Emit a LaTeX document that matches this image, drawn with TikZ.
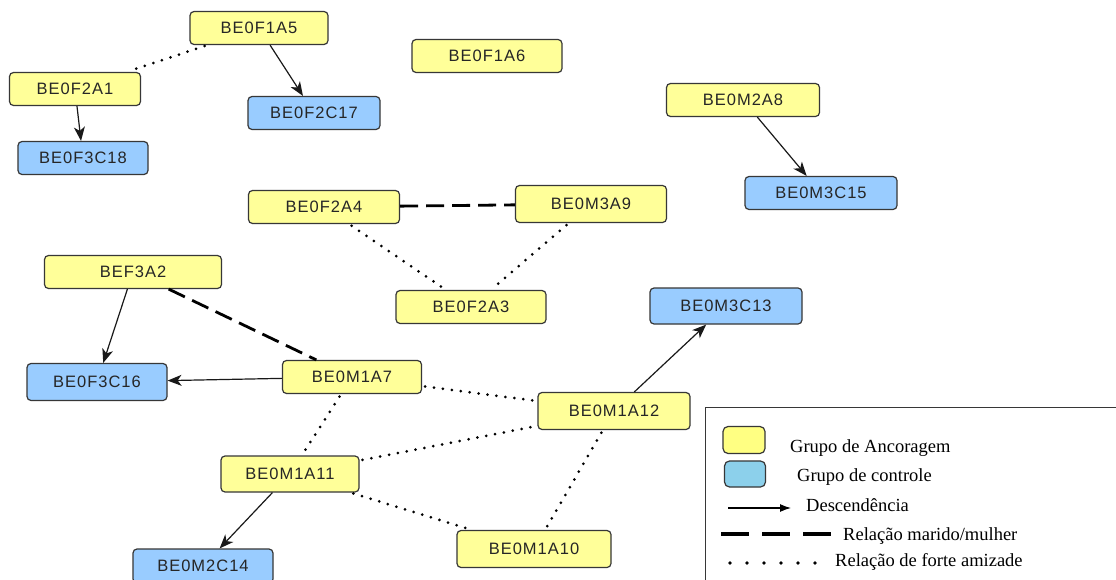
\documentclass[tikz,border=0pt]{standalone}
\usepackage{fontspec}
\setmainfont{Liberation Serif}
\setsansfont{Liberation Sans}[LetterSpace=6.0]
\usepackage{tikz}
\usetikzlibrary{arrows.meta}

\definecolor{ancora}{RGB}{255,255,153}
\definecolor{controle}{RGB}{153,204,255}
\definecolor{borda}{RGB}{55,55,55}
\definecolor{legancora}{RGB}{255,255,130}
\definecolor{legcontrole}{RGB}{140,208,235}

\begin{document}
\begin{tikzpicture}
      [x=1pt,y=-1pt,
       anc/.style={rectangle,draw=borda,line width=1.2pt,rounded corners=4pt,fill=ancora,minimum height=33pt,font=\sffamily\fontsize{16.5}{19}\selectfont,text=black!85},
       ctl/.style={anc,fill=controle},
       desc/.style={-{Stealth[length=14pt,width=11pt,inset=4pt]},line width=1.2pt,black!90},
       casal/.style={line width=2.8pt,dash pattern=on 18pt off 8pt},
       amiz/.style={line width=3pt,line cap=round,dash pattern=on 0pt off 9pt,shorten <=3pt,shorten >=3pt},
       leg/.style={font=\rmfamily\fontsize{18.5}{22}\selectfont,anchor=base west,inner sep=0pt}]
      \useasboundingbox (0,0) rectangle (1116,580);
      \fill[white] (0,0) rectangle (1116,580);
      \clip (0,0) rectangle (1116,580);
      % place nodes
      \node[anc,minimum width=138pt] (f1a5) at (259,28) {BE0F1A5};
      \node[anc,minimum width=150pt] (f1a6) at (487,56) {BE0F1A6};
      \node[anc,minimum width=131pt] (f2a1) at (75,89) {BE0F2A1};
      \node[ctl,minimum width=132pt] (f2c17) at (314,113) {BE0F2C17};
      \node[ctl,minimum width=130pt] (f3c18) at (83,158) {BE0F3C18};
      \node[anc,minimum width=153pt] (m2a8) at (743,100) {BE0M2A8};
      \node[ctl,minimum width=152pt] (m3c15) at (821,193) {BE0M3C15};
      \node[anc,minimum width=151pt] (f2a4) at (324,207) {BE0F2A4};
      \node[anc,minimum width=151pt,minimum height=37pt] (m3a9) at (591,204) {BE0M3A9};
      \node[anc,minimum width=177pt] (ef3a2) at (133,272) {BEF3A2};
      \node[anc,minimum width=150pt] (f2a3) at (471,307) {BE0F2A3};
      \node[ctl,minimum width=152pt,minimum height=36pt] (m3c13) at (726,306) {BE0M3C13};
      \node[ctl,minimum width=140pt,minimum height=37pt] (f3c16) at (97,382) {BE0F3C16};
      \node[anc,minimum width=139pt] (m1a7) at (352,377) {BE0M1A7};
      \node[anc,minimum width=152pt,minimum height=37pt] (m1a12) at (614,411) {BE0M1A12};
      \node[anc,minimum width=138pt,minimum height=36pt] (m1a11) at (290,474) {BE0M1A11};
      \node[anc,minimum width=154pt,minimum height=37pt] (m1a10) at (534,549) {BE0M1A10};
      \node[ctl,minimum width=140pt,minimum height=34pt] (m2c14) at (203,566) {BE0M2C14};
      % add edges
      \draw[desc] (f1a5) -- (f2c17);
      \draw[desc] (f2a1) -- (f3c18);
      \draw[desc] (m2a8) -- (m3c15);
      \draw[desc] (ef3a2) -- (f3c16);
      \draw[desc] (m1a7) -- (f3c16);
      \draw[desc] (m1a12) -- (m3c13);
      \draw[desc] (m1a11) -- (m2c14);
      \draw[casal] (f2a4) -- (m3a9);
      \draw[casal] (ef3a2) -- (m1a7);
      \draw[amiz] (f1a5) -- (f2a1);
      \draw[amiz] (f2a4) -- (f2a3);
      \draw[amiz] (m3a9) -- (f2a3);
      \draw[amiz] (m1a7) -- (m1a12);
      \draw[amiz] (m1a7) -- (m1a11);
      \draw[amiz] (m1a11) -- (m1a12);
      \draw[amiz] (m1a11) -- (m1a10);
      \draw[amiz] (m1a12) -- (m1a10);
      % legend
      \draw[borda,line width=1pt] (705,407) rectangle (1130,600);
      \node[draw=borda,line width=1.2pt,rounded corners=5pt,fill=legancora,minimum width=42pt,minimum height=27pt] (swanc) at (744,440) {};
      \node[draw=borda,line width=1.2pt,rounded corners=5pt,fill=legcontrole,minimum width=41pt,minimum height=26pt] (swctl) at (745,474) {};
      \node[leg] (lanc) at (790,452) {Grupo de Ancoragem};
      \node[leg] (lctl) at (797,481) {Grupo de controle};
      \node[leg] (ldesc) at (806,511) {Descendência};
      \node[leg] (lcasal) at (843,540) {Relação marido/mulher};
      \node[leg] (lamiz) at (835,566) {Relação de forte amizade};
      \coordinate (da) at (728,508);
      \coordinate (db) at (791,508);
      \coordinate (ca) at (721,534);
      \coordinate (cb) at (831,534);
      \coordinate (aa) at (730,563);
      \coordinate (ab) at (820,563);
      \draw[line width=1.2pt,-{Latex[length=11pt,width=8pt]}] (da) -- (db);
      \draw[line width=3.2pt,dash pattern=on 28pt off 13pt] (ca) -- (cb);
      \draw[line width=3.6pt,line cap=round,dash pattern=on 0pt off 17pt] (aa) -- (ab);
\end{tikzpicture}
\end{document}
